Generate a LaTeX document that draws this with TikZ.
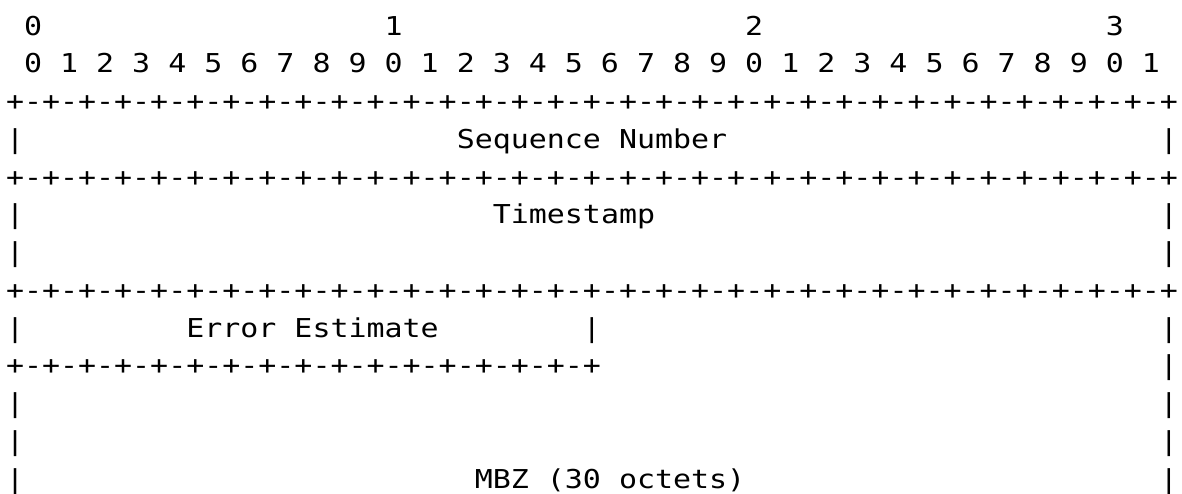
\documentclass[tikz,border=0pt]{standalone}
\usepackage{fontspec}
\newfontfamily\asciimono[FakeStretch=1.152]{DejaVu Sans Mono}
\newcommand\rowy[1]{35+37.75*(#1-1)}
\newcommand\colx[1]{6+18.03*(#1)}
\def\plusseg{-+-+-+-+}
\begin{document}
\begin{tikzpicture}[x=0.5pt,y=-0.5pt,
  txt/.style={inner sep=0pt, outer sep=0pt, anchor=base west,
    font=\asciimono\fontsize{13pt}{13pt}\selectfont, text=black}]
\useasboundingbox (0,0) rectangle (1182,493);
% header: tens
\node[txt] (h0) at ({\colx{1}},{\rowy{1}}) {0};
\node[txt] (h1) at ({\colx{21}},{\rowy{1}}) {1};
\node[txt] (h2) at ({\colx{41}},{\rowy{1}}) {2};
\node[txt] (h3) at ({\colx{61}},{\rowy{1}}) {3};
% header: bit numbers
\foreach \k in {0,...,31} {
  \pgfmathtruncatemacro\dg{mod(\k,10)}
  \node[txt] (bit\k) at ({\colx{1+2*\k}},{\rowy{2}}) {\dg};
}
% border lines
\node[txt] (sep3) at ({\colx{0}},{\rowy{3}}) {+\plusseg\plusseg\plusseg\plusseg\plusseg\plusseg\plusseg\plusseg};
\node[txt] (sep5) at ({\colx{0}},{\rowy{5}}) {+\plusseg\plusseg\plusseg\plusseg\plusseg\plusseg\plusseg\plusseg};
\node[txt] (sep8) at ({\colx{0}},{\rowy{8}}) {+\plusseg\plusseg\plusseg\plusseg\plusseg\plusseg\plusseg\plusseg};
\node[txt] (sep10) at ({\colx{0}},{\rowy{10}}) {+\plusseg\plusseg\plusseg\plusseg};
% vertical bars
\foreach \r in {4,6,7,9,11,12,13} {
  \node[txt] (bl\r) at ({\colx{0}},{\rowy{\r}}) {|};
}
\foreach \r in {4,6,7,9,10,11,12,13} {
  \node[txt] (br\r) at ({\colx{64}},{\rowy{\r}}) {|};
}
\node[txt] (bm9) at ({\colx{32}},{\rowy{9}}) {|};
% field labels
\node[txt] (seq) at ({\colx{25}},{\rowy{4}}) {Sequence Number};
\node[txt] (ts) at ({\colx{27}},{\rowy{6}}) {Timestamp};
\node[txt] (err) at ({\colx{10}},{\rowy{9}}) {Error Estimate};
\node[txt] (mbz) at ({\colx{26}},{\rowy{13}}) {MBZ (30 octets)};
\end{tikzpicture}
\end{document}
